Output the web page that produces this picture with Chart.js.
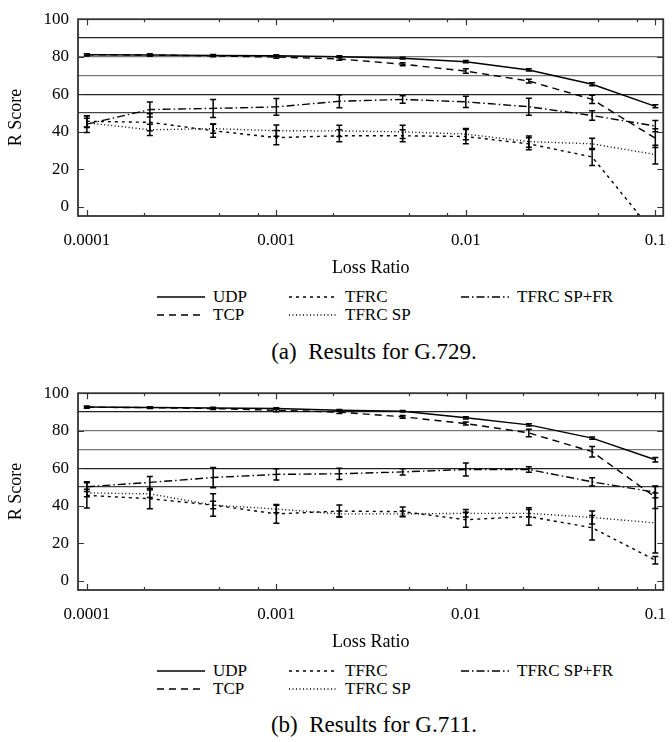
<!DOCTYPE html>
<html>
<head>
<meta charset="utf-8">
<script src="https://cdn.jsdelivr.net/npm/chart.js@4.4.0/dist/chart.umd.min.js"></script>
<style>
  body { margin: 0; background: #fff; font-family: "Liberation Serif", "Times New Roman", serif; }
  .fig { position: relative; width: 672px; height: 374px; }
  .fig canvas { position: absolute; left: 0; top: 0; }
  .legend-item { position: absolute; display: flex; align-items: center; font-size: 17px; line-height: 18px; height: 18px; color: #000; white-space: nowrap; }
  .legend-item svg { margin-right: 8px; }
  .caption { position: absolute; left: 0; width: 672px; text-align: center; font-size: 23px; line-height: 26px; color: #000; }
</style>
</head>
<body>
<div class="fig" id="figA">
  <canvas id="chartA" width="672" height="280"></canvas>
  <div class="caption" style="left:38px;top:339px">(a)&nbsp; Results for G.729.</div>
</div>
<div class="fig" id="figB" style="height:368px">
  <canvas id="chartB" width="672" height="280"></canvas>
  <div class="caption" style="left:38px;top:338px">(b)&nbsp; Results for G.711.</div>
</div>
<script>
// --- data ---
const lossRatio = [0.0001, 0.000215, 0.000464, 0.001, 0.00215, 0.00464, 0.01, 0.0215, 0.0464, 0.1];
const xTickValues = [0.0001, 0.001, 0.01, 0.1];
const xTickLabels = ['0.0001', '0.001', '0.01', '0.1'];
const xMinorTicks = [0.0002, 0.0005, 0.0008, 0.002, 0.005, 0.008, 0.02, 0.05, 0.08];
const yTickValues = [0, 20, 40, 60, 80, 100];
const qualityLines = [50, 60, 70, 80, 90];
const seriesNames = ['UDP', 'TCP', 'TFRC', 'TFRC SP', 'TFRC SP+FR'];

// G.729
const udpG729 = [81.0, 80.9, 80.7, 80.5, 80.0, 79.2, 77.3, 72.9, 65.3, 53.5];
const tcpG729 = [81.0, 80.9, 80.4, 79.8, 78.8, 76.0, 72.3, 67.0, 57.2, 36.5];
const tfrcG729 = [45.5, 45.0, 40.5, 36.8, 37.8, 37.8, 37.4, 33.5, 26.5, -15.0];
const tfrcSpG729 = [44.7, 41.0, 41.6, 40.5, 40.4, 39.9, 38.7, 34.7, 33.5, 27.8];
const tfrcSpFrG729 = [44.0, 51.8, 52.4, 53.2, 56.2, 57.2, 55.9, 53.3, 48.6, 43.0];
const udpG729Err = [0.5, 0.5, 0.5, 0.5, 0.5, 0.5, 0.6, 0.6, 0.8, 0.8];
const tcpG729Err = [0.5, 0.5, 0.5, 0.6, 0.7, 0.8, 1.2, 1.0, 2.2, 5.0];
const tfrcG729Err = [3.0, 4.5, 3.5, 3.8, 3.2, 3.2, 3.8, 3.2, 4.5, 5.0];
const tfrcSpG729Err = [2.5, 3.0, 2.5, 3.0, 3.0, 3.5, 3.0, 3.0, 3.0, 5.0];
const tfrcSpFrG729Err = [4.5, 4.0, 4.8, 4.5, 3.5, 2.0, 3.0, 4.5, 2.5, 3.0];

// G.711
const udpG711 = [92.6, 92.4, 92.1, 91.8, 90.9, 90.4, 86.9, 83.1, 76.0, 64.5];
const tcpG711 = [92.5, 92.3, 91.8, 90.9, 89.9, 87.4, 83.8, 78.8, 68.8, 44.5];
const tfrcG711 = [45.5, 43.7, 40.3, 35.6, 37.1, 36.8, 32.5, 34.2, 28.2, 10.9];
const tfrcSpG711 = [46.8, 46.3, 40.3, 38.2, 35.6, 35.6, 35.9, 35.9, 33.7, 30.8];
const tfrcSpFrG711 = [50.1, 52.4, 55.0, 56.7, 57.0, 58.0, 59.3, 59.3, 52.7, 47.2];
const udpG711Err = [0.4, 0.4, 0.4, 0.5, 0.4, 0.4, 0.6, 0.6, 0.6, 1.2];
const tcpG711Err = [0.5, 0.5, 0.5, 0.8, 0.7, 0.7, 0.8, 2.0, 2.8, 6.0];
const tfrcG711Err = [6.7, 5.4, 6.0, 5.0, 3.2, 2.5, 4.0, 4.7, 6.5, 2.0];
const tfrcSpG711Err = [2.0, 2.0, 2.0, 2.0, 1.5, 1.5, 2.0, 2.0, 3.5, 16.0];
const tfrcSpFrG711Err = [2.6, 3.2, 5.4, 3.0, 3.0, 1.7, 3.5, 1.5, 2.2, 3.0];

// --- styles ---
const dashes = [[], [7, 5], [3, 4], [1, 2.5], [8, 3, 1.5, 3]];
const gridColors = { 50: '#444', 60: '#222', 70: '#777', 80: '#777', 90: '#222' };
const serif = '"Liberation Serif", "Times New Roman", serif';

// legend slots: [x, rowCenterY]
const legendSlots = [[157, 297], [157, 315], [289, 297], [289, 315], [461, 297]];

// error bars drawn from plugin options
const errorBars = {
    id: 'errorBars',
    afterDatasetsDraw(chart, args, opts) {
        const { ctx, chartArea: a, scales: { x, y } } = chart;
        ctx.save();
        ctx.beginPath();
        ctx.rect(a.left, a.top, a.right - a.left, a.bottom - a.top);
        ctx.clip();
        ctx.strokeStyle = '#000';
        ctx.lineWidth = 1.5;
        ctx.setLineDash([]);
        chart.data.datasets.forEach((ds, i) => {
            const errs = opts.errors[i];
            ds.data.forEach((val, j) => {
                const px = x.getPixelForValue(lossRatio[j]);
                const top = y.getPixelForValue(val + errs[j]);
                const bot = y.getPixelForValue(val - errs[j]);
                ctx.beginPath();
                ctx.moveTo(px, top); ctx.lineTo(px, bot);
                ctx.moveTo(px - 3, top); ctx.lineTo(px + 3, top);
                ctx.moveTo(px - 3, bot); ctx.lineTo(px + 3, bot);
                ctx.stroke();
            });
        });
        ctx.restore();
    }
};

// border box with inward ticks, like the original plot
const frameTicks = {
    id: 'frameTicks',
    afterDraw(chart) {
        const { ctx, chartArea: a, scales: { x, y } } = chart;
        ctx.save();
        ctx.strokeStyle = '#333';
        ctx.lineWidth = 1.2;
        ctx.beginPath();
        xTickValues.forEach(v => {
            const px = Math.round(x.getPixelForValue(v)) + 0.5;
            ctx.moveTo(px, a.bottom); ctx.lineTo(px, a.bottom - 6);
            ctx.moveTo(px, a.top); ctx.lineTo(px, a.top + 6);
        });
        xMinorTicks.forEach(v => {
            const px = Math.round(x.getPixelForValue(v)) + 0.5;
            ctx.moveTo(px, a.bottom); ctx.lineTo(px, a.bottom - 3);
            ctx.moveTo(px, a.top); ctx.lineTo(px, a.top + 3);
        });
        yTickValues.forEach(v => {
            const py = Math.round(y.getPixelForValue(v)) + 0.5;
            ctx.moveTo(a.left, py); ctx.lineTo(a.left + 6, py);
            ctx.moveTo(a.right, py); ctx.lineTo(a.right - 6, py);
        });
        ctx.stroke();
        ctx.lineWidth = 1.8;
        ctx.strokeStyle = '#333';
        ctx.strokeRect(a.left, a.top, a.right - a.left, a.bottom - a.top);
        ctx.restore();
    }
};

function makeChart(canvasId, figId, series, errors) {
    const datasets = series.map((vals, i) => ({
        label: seriesNames[i],
        data: vals,
        borderColor: '#000',
        borderWidth: 1.4,
        borderDash: dashes[i],
        pointRadius: 0,
        fill: false,
        tension: 0
    }));

    const chart = new Chart(document.getElementById(canvasId), {
        type: 'line',
        data: { labels: lossRatio, datasets: datasets },
        options: {
            responsive: false,
            animation: false,
            layout: { padding: { top: 16, left: 0, right: 3, bottom: 0 } },
            plugins: {
                legend: { display: false },
                tooltip: { enabled: false },
                errorBars: { errors: errors }
            },
            scales: {
                x: {
                    type: 'logarithmic',
                    min: 0.0000898,
                    max: 0.1101,
                    grid: { display: false },
                    border: { display: false },
                    afterBuildTicks: s => { s.ticks = xTickValues.map(v => ({ value: v })); },
                    afterFit: s => { s.height = 64; },
                    ticks: {
                        autoSkip: false,
                        maxRotation: 0,
                        padding: 6,
                        color: '#000',
                        font: { family: serif, size: 17 },
                        callback: v => xTickLabels[xTickValues.indexOf(v)]
                    },
                    title: {
                        display: true,
                        text: 'Loss Ratio',
                        color: '#000',
                        font: { family: serif, size: 18 },
                        padding: { top: 0, bottom: 1 }
                    }
                },
                y: {
                    type: 'linear',
                    min: -5,
                    max: 100,
                    afterBuildTicks: s => {
                        s.ticks = yTickValues.concat(qualityLines).sort((p, q) => p - q)
                            .filter((v, i, arr) => arr.indexOf(v) === i).map(v => ({ value: v }));
                    },
                    afterFit: s => { s.width = 78; },
                    grid: {
                        drawTicks: false,
                        lineWidth: 1.2,
                        color: c => gridColors[c.tick.value] || 'rgba(0,0,0,0)'
                    },
                    border: { display: false },
                    ticks: {
                        autoSkip: false,
                        padding: 9,
                        color: '#000',
                        font: { family: serif, size: 17 },
                        callback: v => yTickValues.includes(v) ? String(v) : ''
                    },
                    title: {
                        display: true,
                        text: 'R Score',
                        color: '#000',
                        font: { family: serif, size: 18 },
                        padding: { top: 5, bottom: 0 }
                    }
                }
            }
        },
        plugins: [errorBars, frameTicks]
    });

    // legend in the gnuplot key layout (two rows, column-major)
    const fig = document.getElementById(figId);
    chart.data.datasets.forEach((ds, i) => {
        const [lx, ly] = legendSlots[i];
        const item = document.createElement('div');
        item.className = 'legend-item';
        item.style.left = lx + 'px';
        item.style.top = (ly - 9) + 'px';
        const dash = ds.borderDash.length ? ds.borderDash.join(' ') : 'none';
        item.innerHTML = '<svg width="48" height="6"><line x1="0" y1="3" x2="48" y2="3" stroke="#000" stroke-width="1.3" stroke-dasharray="' + dash + '"/></svg>' + ds.label;
        fig.appendChild(item);
    });
    return chart;
}

makeChart('chartA', 'figA',
    [udpG729, tcpG729, tfrcG729, tfrcSpG729, tfrcSpFrG729],
    [udpG729Err, tcpG729Err, tfrcG729Err, tfrcSpG729Err, tfrcSpFrG729Err]);
makeChart('chartB', 'figB',
    [udpG711, tcpG711, tfrcG711, tfrcSpG711, tfrcSpFrG711],
    [udpG711Err, tcpG711Err, tfrcG711Err, tfrcSpG711Err, tfrcSpFrG711Err]);
</script>
</body>
</html>
